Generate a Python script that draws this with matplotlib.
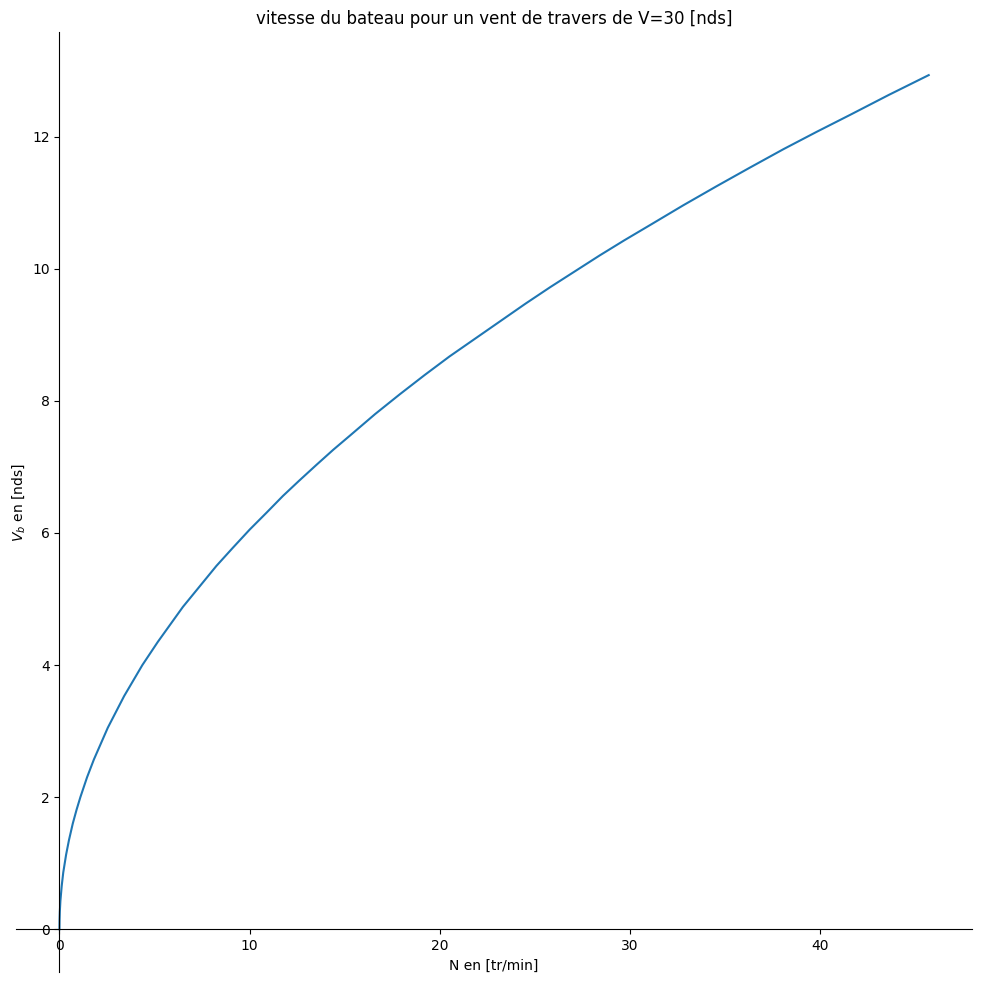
import matplotlib
matplotlib.use('Agg')
import matplotlib.pyplot as plt

# values
N = [0, 0.005, 0.02, 0.05, 0.12, 0.2, 0.35, 0.5, 0.70, 0.9, 1.10, 1.45, 1.81,
     2.54, 3.4, 4.36, 5.17, 6.49, 7.37, 8.25, 9.1, 10.0, 10.9, 11.75, 12.6,
     13.51, 14.4, 15.26, 16.6, 17.9, 19.2, 20.5, 21.85, 23.2, 24.5, 25.8, 27.1,
     28.4, 29.7, 31.05, 32.8, 34.56, 36.3, 38.07, 39.8, 41.58, 43.6, 45.7]
Vb = [0, 0.13, 0.27, 0.43, 0.66, 0.86, 1.13, 1.35, 1.60, 1.81, 2.0, 2.30, 2.57,
      3.05, 3.53, 4.0, 4.35, 4.88, 5.19, 5.50, 5.77, 6.05, 6.31, 6.56, 6.79,
      7.03, 7.26, 7.47, 7.80, 8.10, 8.39, 8.67, 8.94, 9.21, 9.47, 9.72, 9.96,
      10.20, 10.43, 10.66, 10.96, 11.25, 11.53, 11.81, 12.07, 12.33, 12.63, 12.93]

fig, ax = plt.subplots(figsize=(9.81, 9.82), dpi=100)
ax.plot(N, Vb)

ax.spines['left'].set_position('zero')
ax.spines['bottom'].set_position('zero')
ax.spines['right'].set_color('none')
ax.spines['top'].set_color('none')
ax.xaxis.set_ticks_position('bottom')
ax.yaxis.set_ticks_position('left')

ax.set_title('vitesse du bateau pour un vent de travers de V=30 [nds]')
ax.set_xlabel('N en [tr/min]')
ax.set_ylabel('$V_b$ en [nds]')

fig.subplots_adjust(left=0.0163, right=0.991, bottom=0.0102, top=0.967)
fig.savefig('out.png')
